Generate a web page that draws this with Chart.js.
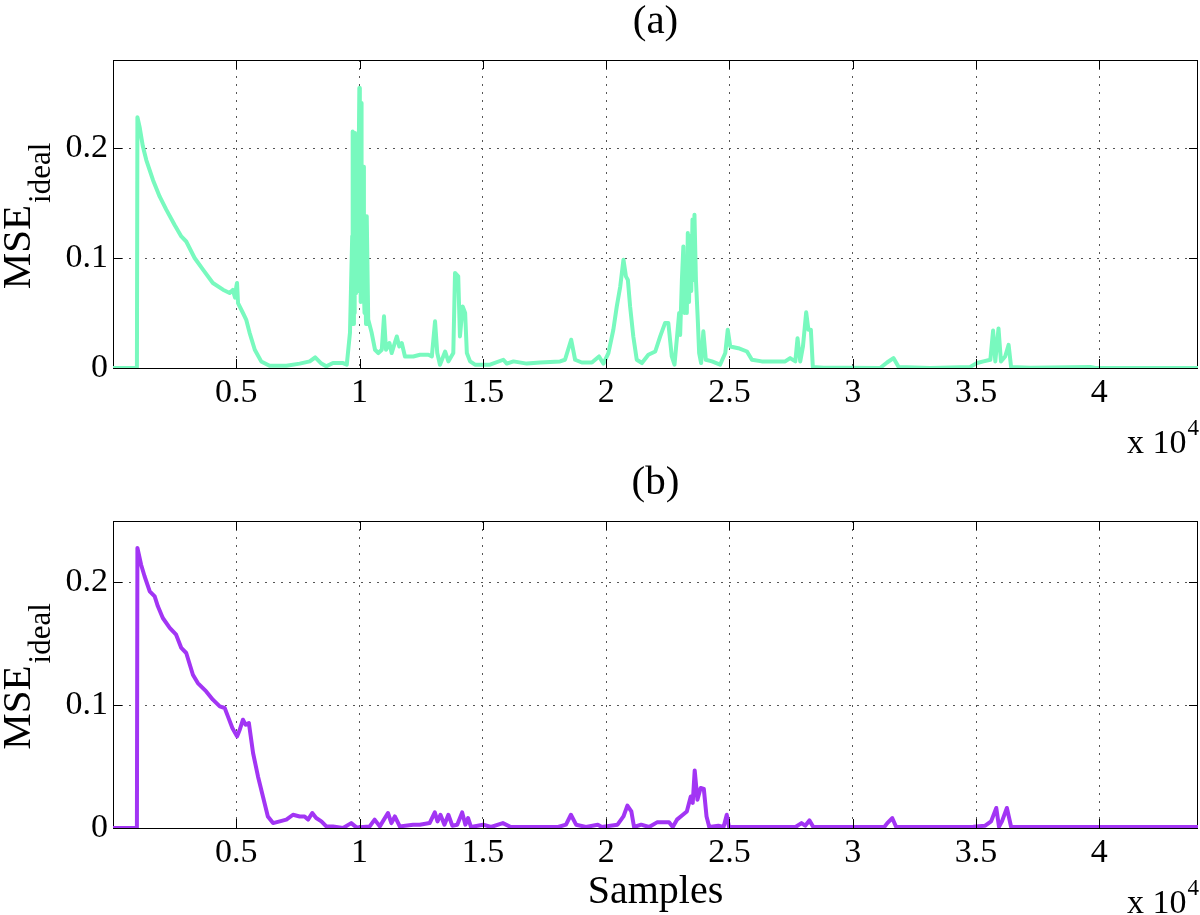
<!DOCTYPE html>
<html>
<head>
<meta charset="utf-8">
<script src="https://cdn.jsdelivr.net/npm/chart.js@4.4.1/dist/chart.umd.min.js"></script>
<style>
  body { margin: 0; background: #fff; }
  #wrap { position: relative; width: 1200px; height: 915px; background: #fff; }
  canvas { position: absolute; left: 0; }
</style>
</head>
<body>
<div id="wrap">
  <canvas id="chartA" width="1200" height="460" style="top:0px"></canvas>
  <canvas id="chartB" width="1200" height="455" style="top:460px"></canvas>
</div>
<script>
// Tick positions and axis limits
const xTicks = [5000, 10000, 15000, 20000, 25000, 30000, 35000, 40000];
const yTicks = [0, 0.1, 0.2];
const xMax = 44000;
const yMaxA = 0.28;
const yMaxB = 0.25;

// (a) samples and MSE values
const samplesA = [0, 970, 990, 1080, 1210, 1350, 1620, 1890, 2160, 2500, 2770, 2970, 3310, 3650, 4050, 4460, 4730, 4860, 4950, 5000, 5030, 5070, 5270, 5400, 5540, 5750, 6010, 6350, 7030, 7570, 7980, 8200, 8450, 8650, 8920, 9330, 9480, 9610, 9700, 9720, 9745, 9770, 9800, 9815, 9855, 9900, 9925, 9950, 9990, 10010, 10030, 10045, 10060, 10080, 10100, 10125, 10150, 10175, 10200, 10220, 10260, 10290, 10350, 10490, 10625, 10760, 10900, 10990, 11070, 11210, 11300, 11510, 11610, 11710, 11840, 12180, 12450, 12790, 12930, 13060, 13150, 13260, 13470, 13600, 13800, 13870, 14000, 14070, 14180, 14280, 14350, 14480, 14680, 15290, 15830, 15970, 16240, 16780, 17320, 18130, 18330, 18580, 18740, 19010, 19420, 19710, 19890, 20090, 20290, 20430, 20570, 20700, 20800, 20880, 20970, 21100, 21240, 21450, 21710, 21990, 22190, 22390, 22520, 22660, 22770, 22900, 22960, 23000, 23070, 23130, 23180, 23230, 23270, 23310, 23360, 23400, 23450, 23500, 23540, 23580, 23640, 23720, 23770, 23850, 23940, 24040, 24290, 24620, 24830, 24930, 25030, 25360, 25710, 25910, 26310, 27260, 27460, 27670, 27760, 27870, 27980, 28110, 28200, 28300, 28380, 28810, 29760, 31110, 31390, 31650, 31860, 33140, 34760, 35040, 35300, 35580, 35690, 35780, 35910, 36010, 36180, 36320, 36420, 37200, 39630, 39840, 44000];
const mseA = [0, 0, 0.228, 0.219, 0.2015, 0.189, 0.171, 0.156, 0.144, 0.130, 0.1196, 0.115, 0.100, 0.0894, 0.0773, 0.0712, 0.0682, 0.071, 0.064, 0.074, 0.0773, 0.059, 0.050, 0.044, 0.032, 0.0166, 0.006, 0.002, 0.002, 0.004, 0.006, 0.0097, 0.004, 0.0015, 0.0045, 0.0045, 0.003, 0.032, 0.12, 0.215, 0.04, 0.212, 0.05, 0.2136, 0.068, 0.14, 0.07, 0.159, 0.2545, 0.09, 0.23, 0.06, 0.241, 0.1, 0.068, 0.17, 0.183, 0.07, 0.05, 0.098, 0.04, 0.138, 0.044, 0.032, 0.0166, 0.0136, 0.0166, 0.047, 0.0166, 0.0227, 0.0136, 0.0287, 0.0196, 0.0227, 0.0105, 0.0105, 0.012, 0.012, 0.0105, 0.0424, 0.0136, 0.003, 0.015, 0.006, 0.0136, 0.0864, 0.0833, 0.0287, 0.056, 0.050, 0.0136, 0.006, 0.003, 0.003, 0.0075, 0.004, 0.006, 0.004, 0.005, 0.006, 0.0075, 0.0257, 0.0075, 0.005, 0.005, 0.0105, 0.004, 0.0136, 0.0348, 0.056, 0.074, 0.0985, 0.0833, 0.080, 0.056, 0.0287, 0.0075, 0.0045, 0.012, 0.015, 0.0287, 0.041, 0.041, 0.0105, 0.003, 0.035, 0.050, 0.030, 0.080, 0.1105, 0.050, 0.095, 0.050, 0.1227, 0.060, 0.120, 0.070, 0.135, 0.080, 0.1394, 0.080, 0.041, 0.0136, 0.0045, 0.0333, 0.0075, 0.006, 0.003, 0.0136, 0.0348, 0.0196, 0.018, 0.015, 0.0075, 0.006, 0.006, 0.009, 0.006, 0.027, 0.006, 0.0196, 0.0506, 0.0348, 0.0348, 0.001, 0.0003, 0.0003, 0, 0.005, 0.009, 0.001, 0, 0.001, 0.0045, 0.006, 0.0075, 0.034, 0.006, 0.036, 0.006, 0.0105, 0.021, 0.001, 0.0003, 0.001, 0, 0];

// (b) samples and MSE values
const samplesB = [0, 970, 990, 1140, 1280, 1490, 1690, 1820, 2020, 2300, 2560, 2770, 2970, 3240, 3440, 3780, 4050, 4330, 4530, 4660, 4840, 5030, 5140, 5270, 5380, 5510, 5680, 5880, 6080, 6280, 6490, 6760, 7030, 7300, 7570, 7770, 7910, 8080, 8240, 8450, 8650, 8920, 9330, 9660, 9870, 10410, 10610, 10820, 11150, 11290, 11430, 11630, 12170, 12440, 12840, 13050, 13160, 13280, 13440, 13600, 13760, 13960, 14160, 14290, 14400, 14520, 15010, 15330, 15810, 16130, 18050, 18370, 18570, 18780, 19180, 19660, 19820, 20460, 20700, 20860, 21020, 21130, 21420, 21740, 22060, 22550, 22700, 22870, 23110, 23270, 23430, 23510, 23590, 23700, 23830, 23960, 24070, 24180, 24550, 24760, 24890, 24980, 27680, 27920, 28070, 28240, 28400, 31280, 31400, 31600, 31760, 34890, 35370, 35610, 35820, 35930, 36050, 36250, 36420, 44000];
const mseB = [0, 0, 0.228, 0.2144, 0.205, 0.1927, 0.1886, 0.1805, 0.171, 0.163, 0.1574, 0.1466, 0.1425, 0.1248, 0.118, 0.1112, 0.1045, 0.099, 0.0977, 0.0909, 0.0814, 0.0746, 0.080, 0.0882, 0.0841, 0.0855, 0.0611, 0.042, 0.0257, 0.0094, 0.004, 0.0054, 0.0068, 0.0108, 0.0094, 0.0094, 0.0068, 0.0122, 0.0081, 0.0054, 0.0013, 0.0013, 0, 0.004, 0.0005, 0.0013, 0.0068, 0.0013, 0.0122, 0.004, 0.0094, 0.0013, 0.0027, 0.0027, 0.004, 0.0127, 0.0054, 0.0108, 0.0027, 0.0108, 0.0019, 0.0027, 0.0127, 0.0027, 0.0081, 0.0008, 0.0027, 0.0008, 0.004, 0.0008, 0.0008, 0.0027, 0.0108, 0.0027, 0.0008, 0.0027, 0.0008, 0.0027, 0.0094, 0.0182, 0.0135, 0.0008, 0.0027, 0.0008, 0.0046, 0.0046, 0.0008, 0.0068, 0.0108, 0.0135, 0.0257, 0.0204, 0.0469, 0.023, 0.0326, 0.0318, 0.0094, 0.0008, 0.0019, 0.0008, 0.0108, 0.0008, 0.0008, 0.004, 0.0019, 0.0062, 0.0008, 0.0008, 0.004, 0.0081, 0.0008, 0.001, 0.0019, 0.0054, 0.0163, 0.001, 0.0054, 0.0163, 0.001, 0.0008];

const FONT = "'Liberation Serif', 'Times New Roman', serif";
Chart.defaults.font.family = FONT;
Chart.defaults.color = "#000";

// box, inner tick marks, titles and axis labels drawn MATLAB-style
const decorations = {
  id: "decorations",
  beforeDatasetsDraw(chart) {
    const { ctx, chartArea: a } = chart;
    ctx.save();
    ctx.strokeStyle = "#000";
    ctx.lineWidth = 1;
    ctx.strokeRect(a.left + 0.5, a.top + 0.5, a.right - a.left - 1, a.bottom - a.top);
    ctx.restore();
  },
  afterDatasetsDraw(chart) {
    const { ctx, chartArea: a, scales } = chart;
    ctx.save();
    ctx.strokeStyle = "#000";
    ctx.lineWidth = 1;
    ctx.beginPath();
    scales.x.ticks.forEach((t) => {
      const px = Math.round(scales.x.getPixelForValue(t.value)) + 0.5;
      ctx.moveTo(px, a.bottom);
      ctx.lineTo(px, a.bottom - 9);
      ctx.moveTo(px, a.top);
      ctx.lineTo(px, a.top + 9);
    });
    scales.y.ticks.forEach((t) => {
      const py = Math.round(scales.y.getPixelForValue(t.value)) + 0.5;
      ctx.moveTo(a.left, py);
      ctx.lineTo(a.left + 9, py);
      ctx.moveTo(a.right, py);
      ctx.lineTo(a.right - 9, py);
    });
    ctx.stroke();
    ctx.restore();
  },
  afterDraw(chart, args, opts) {
    const { ctx, chartArea: a } = chart;
    const cx = (a.left + a.right) / 2;
    ctx.save();
    ctx.fillStyle = "#000";

    // title
    ctx.font = "41px " + FONT;
    ctx.textAlign = "center";
    ctx.textBaseline = "alphabetic";
    ctx.fillText(opts.title, cx, a.top - 27);

    // x label
    if (opts.xlabel) {
      ctx.font = "40px " + FONT;
      ctx.fillText(opts.xlabel, cx, a.bottom + 75);
    }

    // exponent "x 10^4"
    ctx.textAlign = "left";
    ctx.font = "34px " + FONT;
    const base = "x 10";
    ctx.fillText(base, 1127, a.bottom + 85);
    const wb = ctx.measureText(base).width;
    ctx.font = "23px " + FONT;
    ctx.fillText("4", 1127 + wb + 1, a.bottom + 67);

    // y label MSE_ideal
    ctx.font = "41px " + FONT;
    const wMain = ctx.measureText("MSE").width;
    ctx.font = "31px " + FONT;
    const wSub = ctx.measureText("ideal").width;
    const yc = (a.top + a.bottom) / 2;
    ctx.translate(30, yc + (wMain + wSub) / 2 + 3);
    ctx.rotate(-Math.PI / 2);
    ctx.font = "41px " + FONT;
    ctx.fillText("MSE", 0, 0);
    ctx.font = "31px " + FONT;
    ctx.fillText("ideal", wMain + 2, 20);
    ctx.restore();
  }
};

const makeOptions = (yMax, title, xlabel, topPad, axisHeight) => ({
  responsive: false,
  animation: false,
  devicePixelRatio: 1,
  layout: { padding: { top: topPad, right: 2, left: 0, bottom: 0 } },
  plugins: {
    legend: { display: false },
    tooltip: { enabled: false },
    decorations: { title: title, xlabel: xlabel }
  },
  scales: {
    x: {
      type: "linear",
      min: 0,
      max: xMax,
      afterBuildTicks: (s) => { s.ticks = xTicks.map((v) => ({ value: v })); },
      afterFit: (s) => { s.height = axisHeight; },
      ticks: {
        padding: 5,
        maxRotation: 0,
        autoSkip: false,
        color: "#000",
        font: { size: 34 },
        callback: (v) => String(v / 10000)
      },
      grid: { color: "#555", lineWidth: 1, drawTicks: false },
      border: { display: false, dash: [2, 6] }
    },
    y: {
      min: 0,
      max: yMax,
      afterBuildTicks: (s) => { s.ticks = yTicks.map((v) => ({ value: v })); },
      afterFit: (s) => { s.width = 113; },
      ticks: {
        padding: 5,
        color: "#000",
        font: { size: 34 },
        callback: (v) => (v === 0 ? "0" : v.toFixed(1))
      },
      grid: { color: "#555", lineWidth: 1, drawTicks: false },
      border: { display: false, dash: [2, 6] }
    }
  }
});

const toPoints = (xs, ys) => xs.map((x, i) => ({ x: x, y: ys[i] }));

const lineStyle = {
  borderWidth: 4,
  borderJoinStyle: "round",
  pointRadius: 0,
  tension: 0,
  fill: false
};

new Chart(document.getElementById("chartA"), {
  type: "line",
  data: {
    datasets: [Object.assign({ data: toPoints(samplesA, mseA), borderColor: "#78F9BE" }, lineStyle)]
  },
  options: makeOptions(yMaxA, "(a)", "", 60, 92),
  plugins: [decorations]
});

new Chart(document.getElementById("chartB"), {
  type: "line",
  data: {
    datasets: [Object.assign({ data: toPoints(samplesB, mseB), borderColor: "#A235F4" }, lineStyle)]
  },
  options: makeOptions(yMaxB, "(b)", "Samples", 61, 87),
  plugins: [decorations]
});
</script>
</body>
</html>
